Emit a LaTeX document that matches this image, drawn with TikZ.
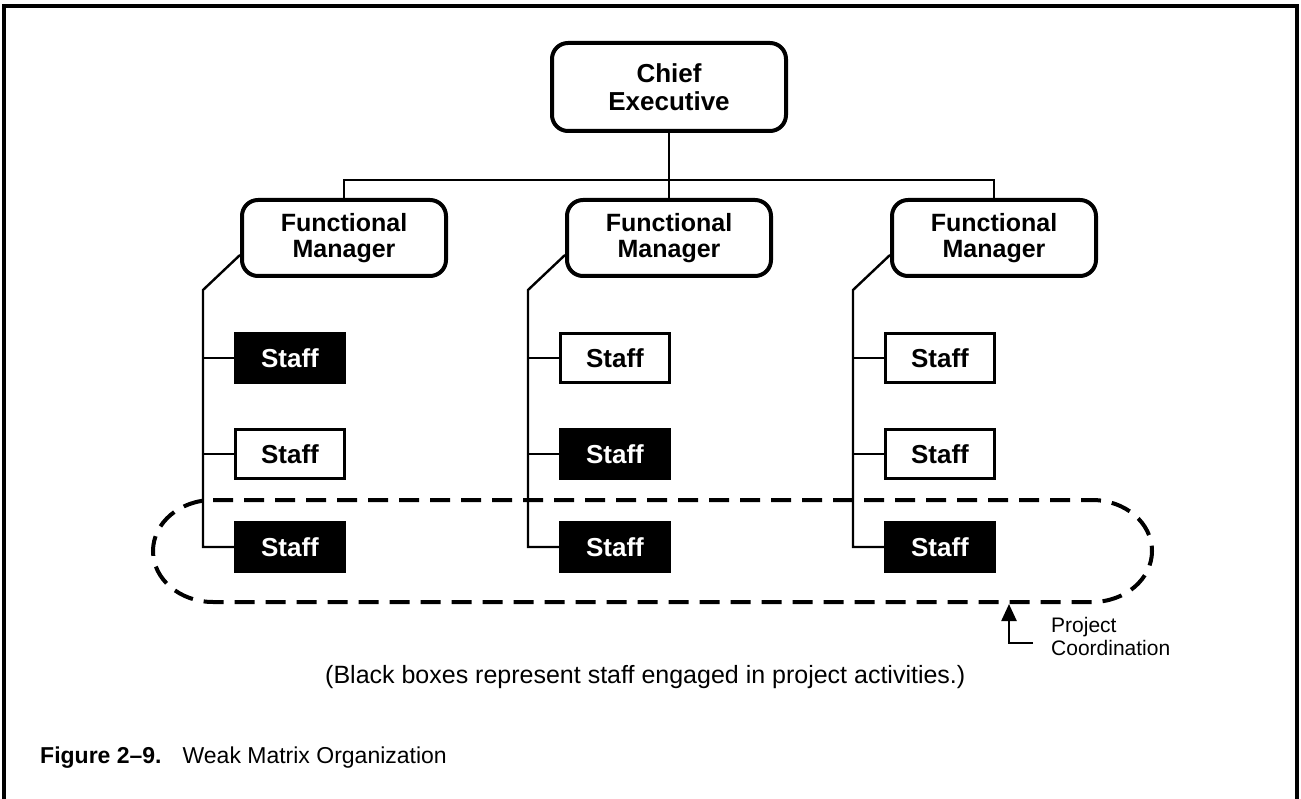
\documentclass[tikz,border=0pt]{standalone}
\usepackage{fontspec}
\setmainfont{Liberation Sans}
\usetikzlibrary{arrows.meta}

\tikzset{
  boss/.style={draw, line width=4pt, rounded corners=16pt, align=center, inner sep=0pt,
    font=\fontsize{25}{26}\selectfont\bfseries},
  staffbox/.style={draw, line width=3.3pt, minimum width=109pt, minimum height=49pt,
    inner sep=0pt, font=\fontsize{26}{28}\selectfont\bfseries},
  busy/.style={staffbox, fill=black, text=white},
  link/.style={line width=2.4pt},
}

\begin{document}
\begin{tikzpicture}[x=1pt,y=-1pt]
\useasboundingbox (0,0) rectangle (1301,799);
\draw[line width=3.5pt] (4,799) -- (4,6) -- (1297,6) -- (1297,799);   % frame, open at the bottom

\node[boss, minimum width=234pt, minimum height=88pt, font=\fontsize{26}{28}\selectfont\bfseries] (chief) at (669,87) {Chief\\Executive};
\node[boss, minimum width=204pt, minimum height=76pt] (fm1) at (344,238) {Functional\\Manager};
\node[boss, minimum width=204pt, minimum height=76pt] (fm2) at (669,238) {Functional\\Manager};
\node[boss, minimum width=204pt, minimum height=76pt] (fm3) at (994,238) {Functional\\Manager};

% staff, black = on the project
\node[busy] (s11) at (290,358) {Staff};
\node[staffbox] (s12) at (290,454) {Staff};
\node[busy] (s13) at (290,547) {Staff};
\node[staffbox] (s21) at (615,358) {Staff};
\node[busy] (s22) at (615,454) {Staff};
\node[busy] (s23) at (615,547) {Staff};
\node[staffbox] (s31) at (940,358) {Staff};
\node[staffbox] (s32) at (940,454) {Staff};
\node[busy] (s33) at (940,547) {Staff};

\draw[link] (chief) -- (fm2);
\draw[link] (fm1.north) -- ++(0,-18) -| (fm3.north);

\draw[link] ([yshift=-17pt]fm1.west) -- ++(-37,35) |- (s13.west);
\draw[link] (s11.west) -- ++(-30,0);
\draw[link] (s12.west) -- ++(-30,0);
\draw[link] ([yshift=-17pt]fm2.west) -- ++(-37,35) |- (s23.west);
\draw[link] (s21.west) -- ++(-30,0);
\draw[link] (s22.west) -- ++(-30,0);
\draw[link] ([yshift=-17pt]fm3.west) -- ++(-37,35) |- (s33.west);
\draw[link] (s31.west) -- ++(-30,0);
\draw[link] (s32.west) -- ++(-30,0);

% project loop
\draw[line width=4pt, dash pattern=on 20pt off 11pt] (213,500) -- (1092,500)
  arc[start angle=-90, end angle=90, x radius=60, y radius=51] -- (213,602)
  arc[start angle=90, end angle=270, x radius=60, y radius=51] -- cycle;

\node[anchor=base west, align=left, inner sep=0pt, font=\fontsize{21}{23}\selectfont] (pclabel) at (1051,655) {Project\\Coordination};
\coordinate (pcs) at (1033,643);
\coordinate (pce) at (1009,604);
\draw[link, -{Triangle[length=17pt,width=15pt]}] (pcs) -| (pce);

\node[anchor=base west, inner sep=0pt, font=\fontsize{25}{27}\selectfont] (note) at (325,683) {(Black boxes represent staff engaged in project activities.)};
\node[anchor=base west, inner sep=0pt, font=\fontsize{23}{25}\selectfont] (caption) at (40,763) {\textbf{Figure 2–9.}\hspace{21pt}Weak Matrix Organization};
\end{tikzpicture}
\end{document}
